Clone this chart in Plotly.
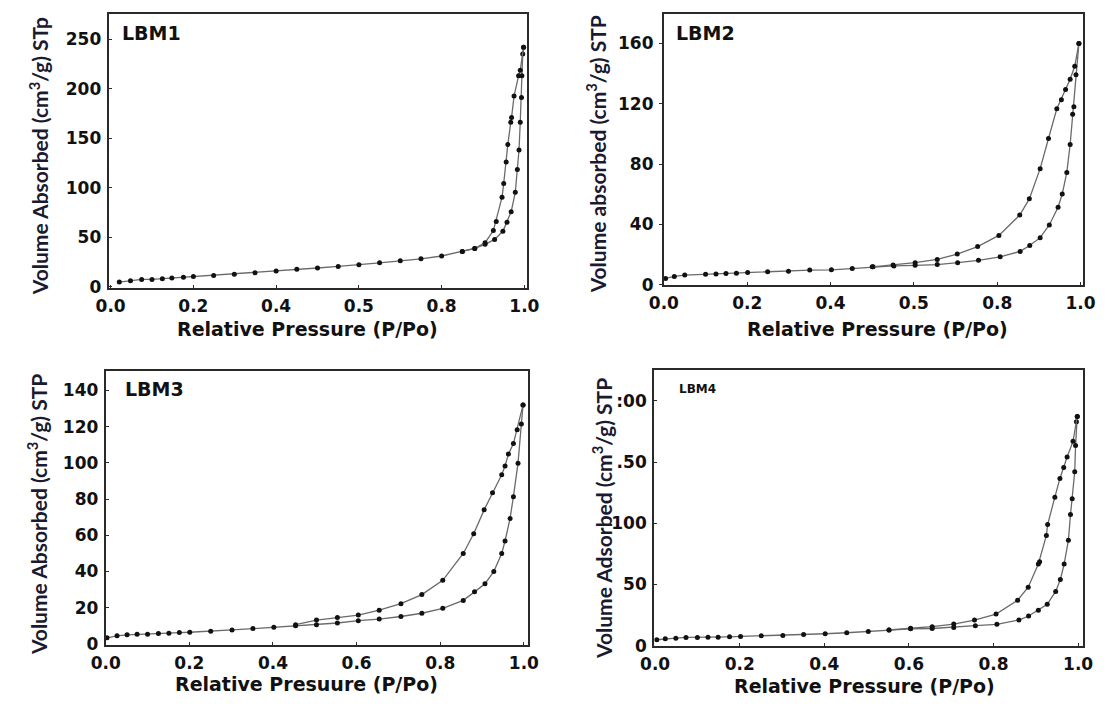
import plotly.graph_objects as go

W, H = 1115, 706

# LBM1
lbm1_ads_p = [0.021, 0.048, 0.075, 0.10, 0.125, 0.148, 0.176, 0.20, 0.249, 0.299, 0.349, 0.40, 0.45,
              0.50, 0.55, 0.60, 0.65, 0.70, 0.75, 0.80, 0.85, 0.88, 0.905, 0.928, 0.948, 0.958,
              0.968, 0.978, 0.983, 0.987, 0.990, 0.993, 0.994, 0.996, 0.998]
lbm1_ads_v = [4.6, 5.9, 7.2, 7.2, 7.9, 8.6, 9.5, 10.2, 11.2, 12.5, 14.1, 15.8, 17.4,
              18.8, 20.4, 22.0, 24.0, 26.0, 28.0, 30.9, 35.5, 38.5, 42.7, 47.7, 55.9, 65.1,
              75.6, 95.3, 118.4, 138, 166, 191, 213, 235, 242]
lbm1_des_p = [0.998, 0.990, 0.986, 0.975, 0.969, 0.967, 0.960, 0.956, 0.950, 0.946, 0.932,
              0.925, 0.905, 0.88, 0.85]
lbm1_des_v = [242, 218.7, 213.2, 192.5, 171, 166, 143.7, 126, 104.2, 90.4, 65.7,
              56.6, 44.4, 38.5, 35.5]

# LBM2
lbm2_ads_p = [0.004, 0.025, 0.05, 0.10, 0.125, 0.149, 0.174, 0.201, 0.249, 0.299, 0.35, 0.402,
              0.452, 0.502, 0.552, 0.603, 0.656, 0.705, 0.755, 0.807, 0.855, 0.878, 0.903,
              0.925, 0.946, 0.956, 0.967, 0.975, 0.981, 0.984, 0.989, 0.996]
lbm2_ads_v = [4.3, 5.6, 6.5, 7.1, 7.3, 7.5, 7.8, 8.2, 8.7, 9.1, 9.8, 10.0,
              10.9, 12.0, 12.6, 13.0, 13.5, 14.7, 16.3, 18.6, 22.2, 26.1, 31.3,
              39.7, 51.5, 60.2, 74.5, 93, 113, 118, 139.3, 160]
lbm2_des_p = [0.996, 0.986, 0.975, 0.964, 0.954, 0.943, 0.923, 0.903, 0.877, 0.854, 0.804,
              0.753, 0.704, 0.656, 0.603, 0.55, 0.50]
lbm2_des_v = [160, 144.8, 136.2, 129.4, 122.7, 116.7, 97, 77, 57, 46.3, 32.8,
              25.4, 20.4, 16.9, 14.7, 13.2, 12.0]

# LBM3
lbm3_ads_p = [0.003, 0.027, 0.051, 0.075, 0.10, 0.126, 0.151, 0.176, 0.201, 0.251, 0.302, 0.352,
              0.402, 0.454, 0.504, 0.554, 0.604, 0.654, 0.706, 0.756, 0.806, 0.855, 0.882,
              0.907, 0.928, 0.947, 0.955, 0.967, 0.975, 0.986, 0.994, 0.998]
lbm3_ads_v = [3.3, 4.4, 5.0, 5.3, 5.3, 5.7, 5.9, 6.2, 6.4, 6.9, 7.7, 8.4,
              9.1, 10.0, 10.6, 11.5, 12.8, 13.7, 15.1, 16.9, 19.6, 24.0, 28.7,
              33.2, 39.9, 49.9, 56.8, 69.3, 81.3, 99.8, 121.5, 132]
lbm3_des_p = [0.998, 0.984, 0.975, 0.963, 0.955, 0.947, 0.925, 0.905, 0.880, 0.855, 0.806,
              0.756, 0.706, 0.654, 0.604, 0.554, 0.504, 0.454]
lbm3_des_v = [132, 118.2, 110.6, 104.8, 98.3, 93.4, 83.4, 74, 60.8, 49.9, 35.1,
              27.2, 22.2, 18.6, 15.9, 14.6, 13.1, 10.6]

# LBM4
lbm4_ads_p = [0.004, 0.024, 0.049, 0.073, 0.10, 0.125, 0.149, 0.176, 0.202, 0.251, 0.302, 0.351,
              0.402, 0.453, 0.504, 0.553, 0.604, 0.655, 0.706, 0.757, 0.808, 0.86, 0.883,
              0.906, 0.927, 0.947, 0.958, 0.967, 0.977, 0.982, 0.986, 0.992, 0.994, 0.996, 0.998]
lbm4_ads_v = [4.8, 5.6, 6.1, 6.7, 6.7, 6.9, 6.9, 7.2, 7.5, 8.0, 8.3, 9.1,
              9.7, 10.5, 11.5, 12.8, 13.7, 14.0, 14.9, 16.3, 17.4, 20.9, 24.2,
              29.0, 33.8, 44.3, 54.0, 66.7, 86.1, 107.1, 120, 142.1, 163.7, 183, 187.4]
lbm4_des_p = [0.998, 0.988, 0.974, 0.966, 0.957, 0.945, 0.928, 0.925, 0.909, 0.906, 0.882,
              0.857, 0.806, 0.755, 0.706, 0.655, 0.604, 0.553]
lbm4_des_v = [187.4, 167, 154.2, 145.6, 136.7, 121.4, 99, 90.1, 68.6, 66.7, 47.8,
              37.1, 25.8, 20.9, 17.6, 15.5, 14.2, 12.8]

x_tickvals = [0, 0.2, 0.4, 0.6, 0.8, 1.0]
x_ticktext_top = ["0.0", "0.2", "0.4", "0.5", "0.8", "1.0"]
x_ticktext_bottom = ["0.0", "0.2", "0.4", "0.6", "0.8", "1.0"]

y_ticks_1 = [0, 50, 100, 150, 200, 250]
y_ticks_2 = [0, 40, 80, 120, 160]
y_ticks_3 = [0, 20, 40, 60, 80, 100, 120, 140]
y_ticks_4 = [0, 50, 100, 150, 200]
y_ticktext_4 = ["0", "50", "100", ".50", ":00"]

TICK_FONT = dict(family="DejaVu Sans", size=17, color="#111111", weight="bold")
YT_FONT = dict(family="Lato", size=21, color="#1a1a30", weight="bold")
XT_FONT = dict(family="DejaVu Sans", size=19, color="#111111", weight="bold")


def px_x(x):
    return x / W


def px_y(y):
    return 1 - y / H


def add_panel(f, n, box, xrange, yrange, ads, des, xtext, ytickvals, yticktext,
              label, label_pos, label_size, ytitle, ytitle_pos, xtitle, xtitle_pos, yticks="inside"):
    left, top, right, bottom = box
    sx = "" if n == 1 else str(n)
    for (p, v) in (ads, des):
        f.add_trace(
            go.Scatter(
                x=p, y=v, mode="lines+markers", xaxis="x" + sx, yaxis="y" + sx,
                line=dict(color="#6a6a6a", width=1.3),
                marker=dict(color="#111111", size=5, symbol="circle"),
                showlegend=False, hoverinfo="x+y",
            )
        )
    f.update_layout(**{
        "xaxis" + sx: dict(
            domain=[px_x(left), px_x(right)], range=xrange, anchor="y" + sx,
            tickvals=x_tickvals, ticktext=xtext, tickfont=TICK_FONT,
            showline=True, mirror=True, linecolor="#2a2a2a", linewidth=2,
            ticks="inside", ticklen=3, tickcolor="#2a2a2a", ticklabelstandoff=2,
            showgrid=False, zeroline=False, fixedrange=True,
        ),
        "yaxis" + sx: dict(
            domain=[px_y(bottom), px_y(top)], range=yrange, anchor="x" + sx,
            tickvals=ytickvals, ticktext=yticktext, tickfont=TICK_FONT,
            showline=True, mirror=True, linecolor="#2a2a2a", linewidth=2,
            ticks=yticks, ticklen=3, tickcolor="#2a2a2a", ticklabelstandoff=2,
            showgrid=False, zeroline=False, fixedrange=True,
        ),
    })
    f.add_annotation(
        text=label, x=px_x(label_pos[0]), y=px_y(label_pos[1]), xref="paper", yref="paper",
        xanchor="left", yanchor="middle", showarrow=False,
        font=dict(family="DejaVu Sans", size=label_size, color="#111111", weight="bold"),
    )
    f.add_annotation(
        text=ytitle, x=px_x(ytitle_pos[0]), y=px_y(ytitle_pos[1]), xref="paper", yref="paper",
        xanchor="center", yanchor="middle", textangle=-90, showarrow=False, font=YT_FONT,
    )
    f.add_annotation(
        text=xtitle, x=px_x(xtitle_pos[0]), y=px_y(xtitle_pos[1]), xref="paper", yref="paper",
        xanchor="center", yanchor="middle", showarrow=False, font=XT_FONT,
    )


fig = go.Figure()

add_panel(fig, 1, (96, 14, 525, 292), [-0.0047, 1.007], [-1.3, 275.7],
          (lbm1_ads_p, lbm1_ads_v), (lbm1_des_p, lbm1_des_v),
          x_ticktext_top, y_ticks_1, [str(v) for v in y_ticks_1],
          "LBM1", (108, 33), 19,
          "Volume Absorbed (cm<sup>3</sup>/g) STp", (24, 158),
          "Relative Pressure (P/Po)", (300, 334))

add_panel(fig, 2, (665, 14, 1095, 289), [0, 1.007], [0, 179.6],
          (lbm2_ads_p, lbm2_ads_v), (lbm2_des_p, lbm2_des_v),
          x_ticktext_top, y_ticks_2, [str(v) for v in y_ticks_2],
          "LBM2", (675, 33), 19,
          "Volume absorbed (cm<sup>3</sup>/g) STP", (595, 157),
          "Relative Pressure (P/Po)", (884, 334), yticks="outside")

add_panel(fig, 3, (93, 376, 526, 654), [0, 1.0105], [-0.5, 150.9],
          (lbm3_ads_p, lbm3_ads_v), (lbm3_des_p, lbm3_des_v),
          x_ticktext_bottom, y_ticks_3, [str(v) for v in y_ticks_3],
          "LBM3", (111, 395), 19,
          "Volume Absorbed (cm<sup>3</sup>/g) STP", (22, 522),
          "Relative Presuure (P/Po)", (299, 694))

add_panel(fig, 4, (655, 375, 1094, 655), [-0.0023, 1.0104], [-0.1, 225.6],
          (lbm4_ads_p, lbm4_ads_v), (lbm4_des_p, lbm4_des_v),
          x_ticktext_bottom, y_ticks_4, y_ticktext_4,
          "LBM4", (678, 395), 12,
          "Volume Adsorbed (cm<sup>3</sup>/g) STP", (601, 526),
          "Relative Pressure (P/Po)", (871, 696))

fig.update_layout(
    width=W, height=H,
    margin=dict(l=0, r=0, t=0, b=0, pad=0),
    paper_bgcolor="white", plot_bgcolor="white",
    showlegend=False,
)

# page body has a default 8px margin; drop it so the figure sits at the window origin
fig.write_html("out.html", config={"displayModeBar": False},
               post_script="document.body.style.margin='0';")
